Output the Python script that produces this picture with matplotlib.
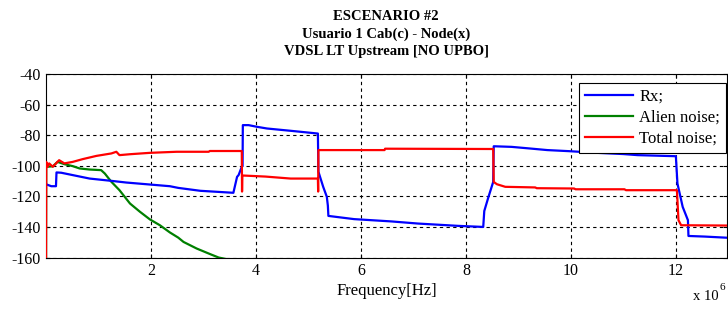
import matplotlib
matplotlib.use("Agg")
import matplotlib.pyplot as plt
import numpy as np

# Frequencies in MHz (axis shows x 10^6 Hz), levels in dB
rx_f = [0.0, 0.1, 0.19, 0.2, 0.29, 0.83, 1.245, 1.53, 1.98, 2.36, 2.52, 2.94, 3.57,
        3.64, 3.67, 3.73, 3.745, 3.75, 3.86, 4.02, 4.21, 4.66, 4.98, 5.18, 5.19,
        5.28, 5.35, 5.37, 5.38, 5.87, 6.58, 7.09, 7.85, 8.33, 8.35, 8.43, 8.52,
        8.53, 8.87, 9.2, 9.55, 9.96, 10.5, 11.0, 11.27, 12.0, 12.03, 12.13, 12.23,
        12.24, 12.55, 13.0]
rx_db = [-112, -113.3, -113.3, -104.3, -104.5, -108.3, -109.8, -110.9, -112.2, -113.3,
         -114.4, -116.3, -117.6, -107.2, -106, -100.6, -100.2, -73.4, -73.4, -74.5,
         -75.6, -77.1, -78.2, -78.9, -103.8, -113.6, -120.2, -126, -132.7, -134.8,
         -136.3, -137.7, -139.2, -139.9, -129.5, -120.3, -110.5, -87.2, -87.6, -88.6,
         -89.7, -90.4, -91.5, -92.3, -93, -93.7, -111.5, -126.8, -135.5, -145.8,
         -146.2, -147]

alien_f = [0.0, 0.003, 0.13, 0.22, 0.35, 0.51, 0.64, 0.83, 1.05, 1.12, 1.245, 1.40, 1.6,
           1.79, 1.98, 2.17, 2.36, 2.52, 2.62, 2.87, 3.13, 3.29, 3.45, 3.8]
alien_db = [-170, -100.6, -100.3, -97.4, -98.9, -100.2, -101.7, -102.4, -102.8, -105,
            -110.4, -115.9, -124.6, -130, -135, -138.8, -143.5, -146.9, -149.7, -154,
            -157.7, -159.9, -161, -164]

total_f = [0.0, 0.005, 0.03, 0.06, 0.13, 0.25, 0.35, 0.51, 0.70, 0.96, 1.245, 1.34, 1.40,
           1.6, 1.98, 2.49, 3.1, 3.12, 3.73, 3.735, 3.74, 4.18, 4.66, 5.18, 5.185, 5.19,
           6.45, 6.46, 8.52, 8.53, 8.59, 8.75, 9.32, 9.35, 10.06, 10.09, 11.02, 11.05,
           12.02, 12.05, 12.1, 13.0]
total_db = [-170, -97.4, -100.6, -98.4, -100.6, -96.3, -98.4, -97.4, -95.6, -93.5, -91.9,
            -90.8, -93, -92.4, -91.5, -90.8, -90.8, -90.3, -90.3, -116.8, -106.3, -107,
            -108.3, -108.3, -116.8, -89.7, -89.7, -88.8, -89, -110.5, -112, -113.7,
            -114.1, -114.6, -114.8, -115.3, -115.3, -115.9, -115.9, -135.5, -138.8, -139]

labels = ["Rx;", "Alien noise;", "Total noise;"]
title_lines = ["ESCENARIO #2", "Usuario 1 Cab(c) - Node(x)", "VDSL LT Upstream [NO UPBO]"]
xticks = [2, 4, 6, 8, 10, 12]
yticks = [-40, -60, -80, -100, -120, -140, -160]

plt.rcParams['font.family'] = ['Liberation Serif', 'DejaVu Serif']
plt.rcParams['axes.unicode_minus'] = False
W, H = 728, 309
fig = plt.figure(figsize=(W / 100, H / 100), dpi=100)
ax = fig.add_axes([46 / W, 1 - 257.7 / H, (727.3 - 46) / W, (257.7 - 74) / H])

ax.plot(alien_f, alien_db, color=(0, 0.5, 0), lw=1.6, label=labels[1], zorder=3)
ax.plot(rx_f, rx_db, color=(0, 0, 1), lw=1.6, label=labels[0], zorder=4)
ax.plot(total_f, total_db, color=(1, 0, 0), lw=1.6, label=labels[2], zorder=5)

ax.set_xlim(0, 12.98)
ax.set_ylim(-160, -40)
ax.set_xticks(xticks)
ax.set_yticks(yticks)
ax.tick_params(direction='in', top=True, right=True, labelsize=11.5, length=3,
               width=0.8, pad=4)
ax.grid(True, color='black', linestyle=(0, (3, 3)), linewidth=0.8)
for s in ax.spines.values():
    s.set_linewidth(0.8)

h, l = ax.get_legend_handles_labels()
order = [1, 0, 2]
leg = ax.legend([h[i] for i in order], [l[i] for i in order], loc='upper right',
                bbox_to_anchor=(1 - 1.5 / 681, 1 - 9 / 184), borderaxespad=0,
                fontsize=12, fancybox=False, framealpha=1, edgecolor='black',
                handlelength=2.9, handletextpad=0.35, labelspacing=0.3,
                borderpad=0.35)
leg.get_frame().set_linewidth(0.8)

ax.set_xlabel("Frequency[Hz]", fontsize=12, labelpad=3)
for i, yy in enumerate([16, 34, 52]):
    fig.text(386 / W, 1 - yy / H, title_lines[i], ha='center', va='center',
             fontsize=10.5, fontweight='bold')
fig.text(693 / W, 1 - 300 / H, "x 10", ha='left', va='baseline', fontsize=10.5)
fig.text(719 / W, 1 - 290 / H, "6", ha='left', va='baseline', fontsize=8)

fig.savefig("out.png", dpi=100)
